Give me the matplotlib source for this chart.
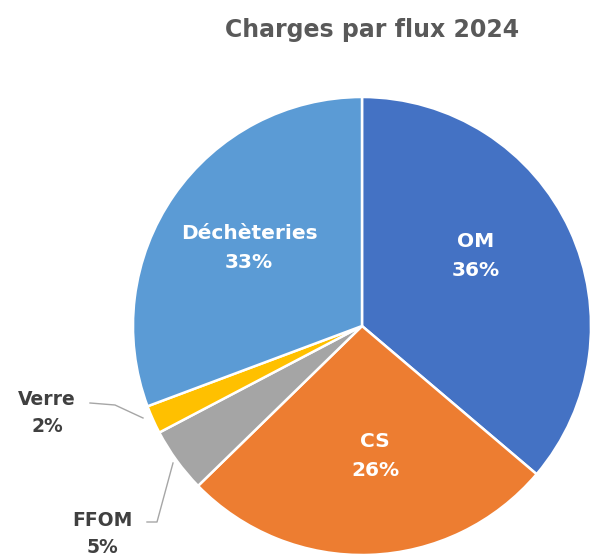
import matplotlib
matplotlib.use("Agg")
import matplotlib.pyplot as plt

# data
flux = ["OM", "CS", "FFOM", "Verre", "Déchèteries"]
shares = [36.2, 26.5, 4.6, 2.0, 30.7]
pct_labels = ["36%", "26%", "5%", "2%", "33%"]
colors = ["#4472C4", "#ED7D31", "#A5A5A5", "#FFC000", "#5B9BD5"]

W, H = 593, 559
fig = plt.figure(figsize=(W / 100, H / 100), dpi=100)
ax = fig.add_axes([0, 0, 1, 1])

cx, cy, r = 362, H - 326, 229
ax.pie(shares, colors=colors, startangle=90, counterclock=False,
       center=(cx, cy), radius=r, frame=True,
       wedgeprops=dict(edgecolor="white", linewidth=1.8))
ax.set_xlim(0, W)
ax.set_ylim(0, H)
ax.axis("off")

font = "DejaVu Sans"
ax.text(372, H - 30, "Charges par flux 2024", ha="center", va="center",
        fontsize=17, fontweight="bold", color="#595959", family=font)

# labels inside the slices
inside = {0: (476, 256), 1: (375, 456), 4: (249, 248)}
for i, (x, y) in inside.items():
    ax.text(x, H - y, flux[i] + "\n" + pct_labels[i], ha="center", va="center",
            fontsize=14.5, fontweight="bold", color="white", family=font,
            linespacing=1.65)

# outside labels with leader lines
outside = {3: (47, 413), 2: (102, 534)}
for i, (x, y) in outside.items():
    ax.text(x, H - y, flux[i] + "\n" + pct_labels[i], ha="center", va="center",
            fontsize=13.5, fontweight="bold", color="#404040", family=font,
            linespacing=1.5)

ax.plot([90, 115, 143], [H - 403, H - 405, H - 418], color="#A6A6A6", lw=1)
ax.plot([147, 157, 173], [H - 522, H - 522, H - 463], color="#A6A6A6", lw=1)

fig.savefig("out.png", dpi=100)
